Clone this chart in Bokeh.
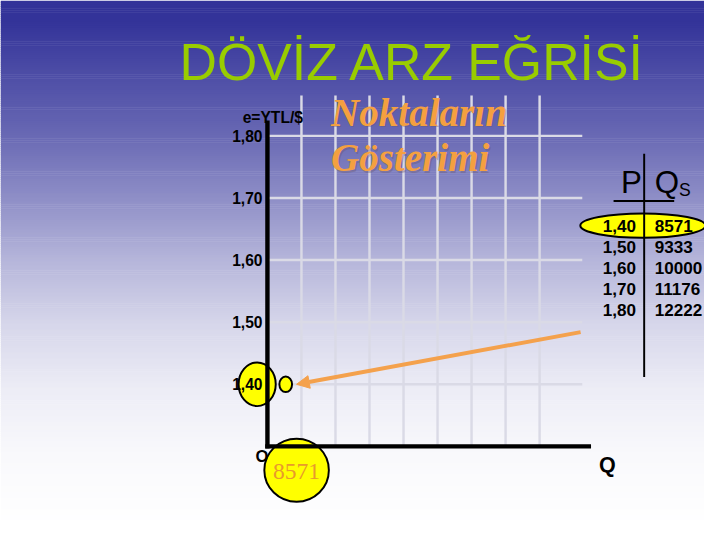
import numpy as np
from bokeh.plotting import figure
from bokeh.models import Range1d, Arrow, NormalHead
from bokeh.core.properties import value
from bokeh.embed import file_html
from bokeh.resources import INLINE

# ---------------- data ----------------
TITLE = "DÖVİZ ARZ EĞRİSİ"
SUBTITLE = ["Noktaların", "Gösterimi"]
Y_AXIS_TITLE = "e=YTL/$"
X_AXIS_TITLE = "Q"
ORIGIN_LABEL = "O"
PRICES = [1.40, 1.50, 1.60, 1.70, 1.80]
PRICE_LABELS = ["1,40", "1,50", "1,60", "1,70", "1,80"]
QUANTITIES = [8571, 9333, 10000, 11176, 12222]
QUANTITY_LABELS = ["8571", "9333", "10000", "11176", "12222"]
GRID_Q = [10000, 20000, 30000, 40000, 50000, 60000, 70000, 80000]
TABLE_HEAD = ["P", "Q", "S"]
HIGHLIGHT = 0  # highlighted point (first row)

# ---------------- layout (slide coordinates, 720x540) ----------------
W, H = 704, 524
S = W / 720.0  # slide -> screen scale
Q_ORIGIN_PX = 273.0
Q_PER_PX = 287.4
P_ORIGIN = 1.30
P_ORIGIN_PX = 459.5
PX_PER_P = 640.0


def fs(px):
    return "%.1fpx" % (px * S)


def q_of_px(px):
    return (px - Q_ORIGIN_PX) * Q_PER_PX


def p_of_px(py):
    return P_ORIGIN + (P_ORIGIN_PX - py) / PX_PER_P


p = figure(width=W, height=H, x_range=Range1d(0, 720), y_range=Range1d(540, 0),
           output_backend="svg", toolbar_location=None, min_border=0,
           x_axis_location=None, y_axis_location=None)
p.grid.visible = False
p.outline_line_color = None
p.background_fill_color = "white"
p.border_fill_color = "white"
p.extra_x_ranges = {"q": Range1d(q_of_px(0), q_of_px(720))}
p.extra_y_ranges = {"p": Range1d(p_of_px(540), p_of_px(0))}

# ---------------- background gradient ----------------
step = 2
ys = np.arange(0, 540, step)
f = np.interp(ys, [0, 20, 67, 133, 200, 267, 333, 400, 467, 540],
              [0, 0.0, 0.11, 0.25, 0.44, 0.64, 0.80, 0.91, 0.97, 1.0])
top = np.array([51, 51, 153])
cols = []
for fv in f:
    c = top + (255 - top) * fv
    cols.append("#%02x%02x%02x" % tuple(int(round(v)) for v in c))
p.quad(left=0, right=720, top=ys, bottom=ys + step + 0.6, fill_color=cols, line_color=None)

# ---------------- title ----------------
p.text(x=[421.5], y=[63], text=[TITLE], text_font=value("Liberation Sans"),
       text_font_size=fs(53), text_color="#99cc00", text_align="center",
       text_baseline="alphabetic")

# ---------------- grid ----------------
grid_col = "#dadae6"
p.segment(x0=[Q_ORIGIN_PX] * len(PRICES), x1=[595] * len(PRICES), y0=PRICES, y1=PRICES,
          y_range_name="p", line_color=grid_col, line_width=2.5 * S)
p.segment(x0=GRID_Q, x1=GRID_Q, y0=[P_ORIGIN] * len(GRID_Q), y1=[p_of_px(98)] * len(GRID_Q),
          x_range_name="q", y_range_name="p", line_color=grid_col, line_width=2.5 * S)

# ---------------- subtitle ----------------
for i, t in enumerate(SUBTITLE):
    yb = 115 + i * 47
    p.text(x=[339.5], y=[yb + 1.5], text=[t], text_font=value("Liberation Serif"),
           text_font_size=fs(40), text_font_style="bold italic", text_color="#6a5870",
           text_alpha=0.4, text_align="left", text_baseline="alphabetic")
    p.text(x=[338], y=[yb], text=[t], text_font=value("Liberation Serif"),
           text_font_size=fs(40), text_font_style="bold italic", text_color="#f4a040",
           text_align="left", text_baseline="alphabetic")

# ---------------- arrow from table to point ----------------
orange = "#f4a14c"
p.add_layout(Arrow(end=NormalHead(size=13 * S, fill_color=orange, line_color=orange),
                   x_start=q_of_px(593.3), y_start=p_of_px(341.7),
                   x_end=QUANTITIES[HIGHLIGHT], y_end=PRICES[HIGHLIGHT],
                   x_range_name="q", y_range_name="p",
                   line_color=orange, line_width=4 * S))

# ---------------- highlight markers ----------------
p.ellipse(x=[262.5], y=[PRICES[HIGHLIGHT]], width=38, height=45 / PX_PER_P,
          y_range_name="p", fill_color="#ffff00", line_color="black", line_width=2 * S)
p.ellipse(x=[291.7], y=[PRICES[HIGHLIGHT]], width=13, height=16 / PX_PER_P,
          y_range_name="p", fill_color="#ffff00", line_color="black", line_width=2 * S)
p.ellipse(x=[QUANTITIES[HIGHLIGHT]], y=[484], width=66 * Q_PER_PX, height=65,
          x_range_name="q", fill_color="#ffff00", line_color="black", line_width=2 * S)
p.text(x=[QUANTITIES[HIGHLIGHT]], y=[485], text=[QUANTITY_LABELS[HIGHLIGHT]],
       x_range_name="q", text_font=value("Liberation Serif"), text_font_size=fs(24),
       text_color="#e89a2c", text_align="center", text_baseline="middle")

# ---------------- axes ----------------
p.segment(x0=[0, 0], x1=[0, q_of_px(601.7)], y0=[P_ORIGIN, P_ORIGIN],
          y1=[p_of_px(126), P_ORIGIN], x_range_name="q", y_range_name="p",
          line_color="black", line_width=4.5 * S, line_cap="square")
p.text(x=[268] * len(PRICES), y=PRICES, text=PRICE_LABELS, y_range_name="p",
       text_font=value("Liberation Sans"), text_font_size=fs(16), text_font_style="bold",
       text_color="black", text_align="right", text_baseline="middle")
p.text(x=[278.5], y=[120.5], text=[Y_AXIS_TITLE], text_font=value("Liberation Sans"),
       text_font_size=fs(16), text_font_style="bold", text_color="black",
       text_align="center", text_baseline="alphabetic")
p.text(x=[267.5], y=[470], text=[ORIGIN_LABEL], text_font=value("Liberation Sans"),
       text_font_size=fs(17), text_font_style="bold", text_color="black",
       text_align="center", text_baseline="middle")
p.text(x=[612], y=[479], text=[X_AXIS_TITLE], text_font=value("Liberation Sans"),
       text_font_size=fs(22), text_font_style="bold", text_color="black",
       text_align="left", text_baseline="middle")

# ---------------- table ----------------
row_y = [232 + i * 21.75 for i in range(len(PRICES))]
p.ellipse(x=[657], y=[row_y[HIGHLIGHT]], width=128, height=25,
          fill_color="#ffff00", line_color="black", line_width=2 * S)
p.segment(x0=[627, 658.3], x1=[689, 658.3], y0=[206.7, 158], y1=[206.7, 388],
          line_color="black", line_width=2 * S)
p.text(x=[656], y=[188], text=[TABLE_HEAD[0]], text_font=value("Liberation Sans"),
       text_font_size=fs(32), text_color="black", text_align="right",
       text_baseline="alphabetic")
p.text(x=[669], y=[188], text=[TABLE_HEAD[1]], text_font=value("Liberation Sans"),
       text_font_size=fs(32), text_color="black", text_align="left",
       text_baseline="alphabetic")
p.text(x=[694], y=[195], text=[TABLE_HEAD[2]], text_font=value("Liberation Sans"),
       text_font_size=fs(18), text_color="black", text_align="left",
       text_baseline="alphabetic")
p.text(x=[650] * len(PRICES), y=row_y, text=PRICE_LABELS,
       text_font=value("Liberation Sans"), text_font_size=fs(17.5), text_font_style="bold",
       text_color="black", text_align="right", text_baseline="middle")
p.text(x=[669] * len(QUANTITIES), y=row_y, text=QUANTITY_LABELS,
       text_font=value("Liberation Sans"), text_font_size=fs(17.5), text_font_style="bold",
       text_color="black", text_align="left", text_baseline="middle")

open("out.html", "w").write(file_html(p, INLINE))
